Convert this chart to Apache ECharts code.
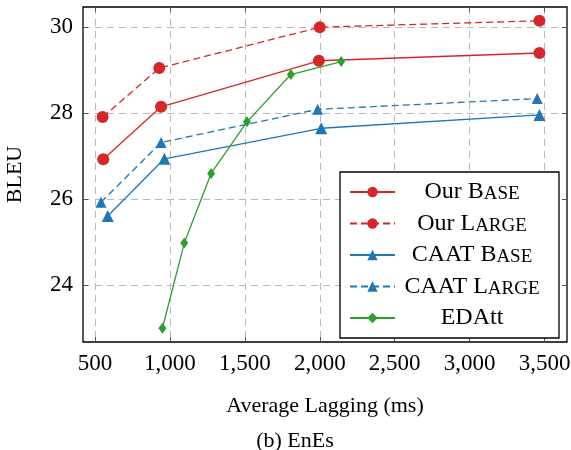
<!DOCTYPE html>
<html>
<head>
<meta charset="utf-8">
<script src="https://cdn.jsdelivr.net/npm/echarts@6/dist/echarts.min.js"></script>
<style>html,body{margin:0;padding:0;background:#fff;}#c{width:571px;height:450px;}</style>
</head>
<body>
<div id="c"></div>
<script>
const xTicks = [500, 1000, 1500, 2000, 2500, 3000, 3500];
const yTicks = [24, 26, 28, 30];

const ourBaseX = [555, 941, 1994, 3466];
const ourBaseY = [26.93, 28.15, 29.22, 29.40];
const ourLargeX = [551, 929, 2000, 3466];
const ourLargeY = [27.91, 29.05, 30.00, 30.15];
const caatBaseX = [585, 963, 2010, 3466];
const caatBaseY = [25.61, 26.94, 27.65, 27.96];
const caatLargeX = [540, 941, 1986, 3451];
const caatLargeY = [25.93, 27.32, 28.09, 28.34];
const edattX = [950, 1096, 1275, 1514, 1807, 2143];
const edattY = [23.0, 24.98, 26.6, 27.8, 28.9, 29.2];

const seriesNames = ['Our Base', 'Our Large', 'CAAT Base', 'CAAT Large', 'EDAtt'];
const legendRich = {
  'Our Base': '{n|Our B}{s|ASE}',
  'Our Large': '{n|Our L}{s|ARGE}',
  'CAAT Base': '{n|CAAT B}{s|ASE}',
  'CAAT Large': '{n|CAAT L}{s|ARGE}',
  'EDAtt': '{n|EDAtt}'
};

const RED = '#d62728', BLUE = '#1f77b4', GREEN = '#2ca02c';
const FONT = '"Liberation Serif", "DejaVu Serif", serif';

function pairs(xs, ys) { return xs.map((x, i) => [x, ys[i]]); }

function mk(name, xs, ys, color, dashed, symbol, size) {
  return {
    name: name, type: 'line', data: pairs(xs, ys),
    xAxisIndex: 0, yAxisIndex: 0,
    symbol: symbol, symbolSize: size, showSymbol: true,
    lineStyle: { color: color, width: 1.3, type: dashed ? [7, 4] : 'solid' },
    itemStyle: { color: color },
    emphasis: { disabled: true },
    animation: false
  };
}

const chart = echarts.init(document.getElementById('c'), null, { renderer: 'canvas' });
const xMin = 420, xMax = 3650, yMin = 22.68, yMax = 30.47;
const gridStyle = { show: true, lineStyle: { color: '#b8b8b8', width: 1, type: [7, 5] } };

chart.setOption({
  animation: false,
  textStyle: { fontFamily: FONT },
  title: {
    text: '(b) EnEs', left: 290, top: 425, textAlign: 'center',
    textStyle: { fontFamily: FONT, fontSize: 22, fontWeight: 'normal', color: '#000' }
  },
  grid: {
    left: 83, right: 4, top: 7, bottom: 108,
    show: true, borderColor: '#000', borderWidth: 1.3,
    outerBoundsMode: 'none', containLabel: false
  },
  xAxis: [{
    type: 'value', min: xMin, max: xMax, position: 'bottom',
    name: 'Average Lagging (ms)', nameLocation: 'middle', nameGap: 53,
    nameTextStyle: { fontFamily: FONT, fontSize: 22, color: '#000' },
    axisLine: { show: false },
    axisTick: { show: true, inside: true, length: 5, customValues: xTicks, lineStyle: { color: '#555' } },
    axisLabel: { customValues: xTicks, margin: 10, fontFamily: FONT, fontSize: 23, color: '#000',
      formatter: v => v.toLocaleString('en-US') },
    splitLine: gridStyle
  }, {
    type: 'value', min: xMin, max: xMax, position: 'top',
    axisLine: { show: false },
    axisTick: { show: true, inside: true, length: 5, customValues: xTicks, lineStyle: { color: '#555' } },
    axisLabel: { show: false, customValues: xTicks },
    splitLine: { show: false }
  }],
  yAxis: [{
    type: 'value', min: yMin, max: yMax, position: 'left',
    name: 'BLEU', nameLocation: 'middle', nameGap: 57, nameRotate: 90,
    nameTextStyle: { fontFamily: FONT, fontSize: 22, color: '#000' },
    axisLine: { show: false },
    axisTick: { show: true, inside: true, length: 5, customValues: yTicks, lineStyle: { color: '#555' } },
    axisLabel: { customValues: yTicks, margin: 10, fontFamily: FONT, fontSize: 23, color: '#000' },
    splitLine: gridStyle
  }, {
    type: 'value', min: yMin, max: yMax, position: 'right',
    axisLine: { show: false },
    axisTick: { show: true, inside: true, length: 5, customValues: yTicks, lineStyle: { color: '#555' } },
    axisLabel: { show: false, customValues: yTicks },
    splitLine: { show: false }
  }],
  legend: {
    data: seriesNames,
    orient: 'vertical', left: 340, top: 172,
    padding: [8, 15, 8, 9],
    backgroundColor: '#fff', borderColor: '#000', borderWidth: 1.3,
    itemWidth: 45, itemHeight: 13, itemGap: 7.5, itemTextGap: 2,
    selectedMode: false,
    formatter: name => legendRich[name],
    textStyle: {
      width: 144, lineHeight: 24, color: '#000', fontFamily: FONT,
      rich: {
        n: { fontSize: 24, fontFamily: FONT, align: 'center', verticalAlign: 'bottom', color: '#000', lineHeight: 24 },
        s: { fontSize: 19, fontFamily: FONT, align: 'center', verticalAlign: 'bottom', color: '#000', lineHeight: 20 }
      }
    }
  },
  series: [
    mk('Our Base', ourBaseX, ourBaseY, RED, false, 'circle', 12),
    mk('Our Large', ourLargeX, ourLargeY, RED, true, 'circle', 12),
    mk('CAAT Base', caatBaseX, caatBaseY, BLUE, false, 'triangle', 12),
    mk('CAAT Large', caatLargeX, caatLargeY, BLUE, true, 'triangle', 11),
    mk('EDAtt', edattX, edattY, GREEN, false, 'diamond', [8, 11])
  ]
});
</script>
</body>
</html>
